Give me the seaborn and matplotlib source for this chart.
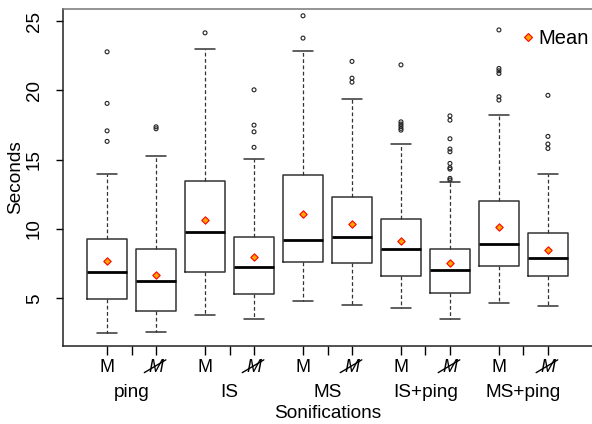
import matplotlib
matplotlib.use("Agg")
import matplotlib.pyplot as plt
from matplotlib.lines import Line2D
import numpy as np
import pandas as pd
import seaborn as sns

# data (seconds)
groups = ["ping", "IS", "MS", "IS+ping", "MS+ping"]
conditions = ["M", "notM"]

whislo = [2.52, 2.55, 3.80, 3.49, 4.78, 4.50, 4.32, 3.49, 4.66, 4.47]
q1 = [4.97, 4.08, 6.90, 5.29, 7.64, 7.55, 6.61, 5.36, 7.31, 6.63]
med = [6.90, 6.27, 9.78, 7.26, 9.23, 9.42, 8.58, 7.02, 8.94, 7.88]
q3 = [9.28, 8.55, 13.48, 9.42, 13.89, 12.28, 10.72, 8.58, 12.02, 9.73]
whishi = [13.98, 15.28, 23.02, 15.07, 22.81, 19.35, 16.15, 13.38, 18.19, 13.94]
means = [7.71, 6.66, 10.65, 7.98, 11.06, 10.38, 9.11, 7.57, 10.14, 8.48]
outliers = [
    [22.78, 19.06, 17.08, 16.32],
    [17.37, 17.23],
    [24.15],
    [20.04, 17.49, 17.01, 15.89],
    [25.38, 23.77],
    [22.09, 20.88, 20.59],
    [21.84, 17.73, 17.57, 17.42, 17.26, 17.13],
    [18.16, 17.85, 16.51, 15.77, 15.57, 14.73, 14.42, 14.32, 13.65, 13.53],
    [24.36, 21.58, 21.41, 21.22, 19.54, 19.30],
    [19.64, 16.68, 16.13, 15.81],
]

sns.set_style("ticks")
plt.rcParams["font.family"] = ["Liberation Sans", "DejaVu Sans"]
plt.rcParams["text.color"] = "black"
plt.rcParams["axes.labelcolor"] = "black"
plt.rcParams["xtick.color"] = "black"
plt.rcParams["ytick.color"] = "black"

positions = np.arange(1, len(med) + 1)
stats = [
    {"whislo": lo, "q1": a, "med": m, "q3": b, "whishi": hi, "fliers": []}
    for lo, a, m, b, hi in zip(whislo, q1, med, q3, whishi)
]

fig = plt.figure(figsize=(5.92, 4.24), dpi=100)
ax = fig.add_axes([63 / 592, 1 - 345.7 / 424, 1 - 63 / 592, (345.7 - 9) / 424])

ax.bxp(stats, positions=positions, widths=0.8, capwidths=0.4,
       showfliers=False, patch_artist=False,
       boxprops=dict(color="#333333", linewidth=1.1),
       medianprops=dict(color="black", linewidth=2.0),
       whiskerprops=dict(color="#333333", linewidth=0.9, linestyle=(0, (3, 2))),
       capprops=dict(color="#333333", linewidth=1.1))

out_df = pd.DataFrame(
    [(p, v) for p, vals in zip(positions, outliers) for v in vals],
    columns=["pos", "Seconds"],
)
sns.scatterplot(data=out_df, x="pos", y="Seconds", ax=ax, marker="o", s=8,
                facecolor="none", edgecolor="#222222", linewidth=0.8,
                legend=False)

mean_df = pd.DataFrame({"pos": positions, "Mean": means})
sns.scatterplot(data=mean_df, x="pos", y="Mean", ax=ax, marker="D", s=14,
                color="#FFA500", edgecolor="red", linewidth=0.8, zorder=5,
                legend=False)

ax.set_xlim(0.1, 10.9)
ax.set_ylim(1.58, 25.87)
ax.set_yticks([5, 10, 15, 20, 25])
ax.tick_params(axis="y", labelsize=13.5, length=5, width=1, pad=9.5,
               labelrotation=90)
for lab in ax.get_yticklabels():
    lab.set_va("center")

ax.set_xticks(positions)
ax.set_xticks(positions[::2] + 0.5, minor=True)
ax.set_xticklabels(groups, minor=True)
ax.tick_params(axis="x", which="major", labelsize=13, length=6.5, width=1, pad=3)
ax.tick_params(axis="x", which="minor", labelsize=13.7, length=6.5, width=1, pad=21)
ax.set_xticklabels(["M"] * len(positions))
for i, lab in enumerate(ax.get_xticklabels()):
    if conditions[i % 2] == "notM":
        lab.set_fontstyle("italic")

# strike-through for the "not M" labels
trans = ax.get_xaxis_transform()
for p in positions[1::2]:
    ax.plot([p - 0.24, p + 0.2], [-0.080, -0.042], transform=trans,
            color="black", linewidth=1, clip_on=False)

ax.set_xlabel("Sonifications", fontsize=13.7, labelpad=3)
ax.set_ylabel("Seconds", fontsize=13.7)
ax.yaxis.set_label_coords(-0.074, 0.5)

for side in ["left", "bottom"]:
    ax.spines[side].set_color("#222222")
    ax.spines[side].set_linewidth(1.1)
ax.spines["top"].set_color("#777777")
ax.spines["top"].set_linewidth(1.1)
ax.spines["right"].set_visible(False)

handle = Line2D([], [], marker="D", linestyle="none", markersize=4,
                markerfacecolor="#FFA500", markeredgecolor="red",
                markeredgewidth=0.8)
ax.legend([handle], ["Mean"], loc="upper right", frameon=False,
          fontsize=14.5, handletextpad=0.0, handlelength=1.0,
          borderaxespad=0.2, bbox_to_anchor=(1.017, 0.976))

fig.savefig("out.png", dpi=100)
